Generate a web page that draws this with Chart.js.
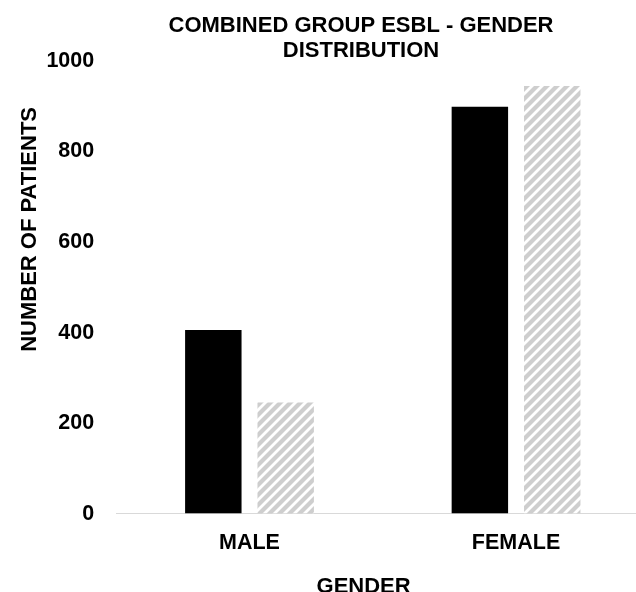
<!DOCTYPE html>
<html>
<head>
<meta charset="utf-8">
<script src="https://cdn.jsdelivr.net/npm/chart.js@4.4.1/dist/chart.umd.min.js"></script>
<style>
  html, body { margin: 0; padding: 0; background: #ffffff; }
  #wrap { width: 636px; height: 592px; }
</style>
</head>
<body>
<div id="wrap"><canvas id="chart" width="636" height="592"></canvas></div>
<script>
// Gender categories and patient counts for the two groups
const categories = ['MALE', 'FEMALE'];
const groupSolid = [406, 899];
const groupHatched = [246, 945];
const yTicks = [0, 200, 400, 600, 800, 1000];
const titleLines = ['COMBINED GROUP ESBL - GENDER', 'DISTRIBUTION'];
const xTitle = 'GENDER';
const yTitle = 'NUMBER OF PATIENTS';

// Diagonal light-gray stripe pattern (rising to the right) for the second group
function makeHatch() {
  const size = 10;
  const c = document.createElement('canvas');
  c.width = size; c.height = size;
  const g = c.getContext('2d');
  const img = g.createImageData(size, size);
  for (let y = 0; y < size; y++) {
    for (let x = 0; x < size; x++) {
      const d = (x + y) % size;
      let v = 255;
      if (d < 5) v = 206;
      else if (d === 5 || d === 9) v = 230;
      const i = (y * size + x) * 4;
      img.data[i] = v; img.data[i + 1] = v; img.data[i + 2] = v; img.data[i + 3] = 255;
    }
  }
  g.putImageData(img, 0, 0);
  return g.createPattern(c, 'repeat');
}

// Offsets for the titles: the chart title and the category-axis title sit
// left of the plot centre, the value-axis title in the upper part of its axis.
const TITLE_OFFSET_X = 57;
const XTITLE_OFFSET_X = -25;
const YTITLE_OFFSET_Y = -116;

const titleShift = {
  id: 'titleShift',
  beforeDraw(chart) {
    const tb = chart.titleBlock;
    const x = chart.scales.x, y = chart.scales.y;
    this._saved = { tb: tb ? tb.left : undefined, x: x.left, y: y.bottom };
    if (tb) tb.left += TITLE_OFFSET_X;
    x.left += XTITLE_OFFSET_X;
    y.bottom += YTITLE_OFFSET_Y;
  },
  afterDraw(chart) {
    const s = this._saved;
    if (!s) return;
    if (chart.titleBlock && s.tb !== undefined) chart.titleBlock.left = s.tb;
    chart.scales.x.left = s.x;
    chart.scales.y.bottom = s.y;
  }
};

const FONT = "'Liberation Sans', Arial, sans-serif";

new Chart(document.getElementById('chart'), {
  type: 'bar',
  data: {
    labels: categories,
    datasets: [
      {
        data: groupSolid,
        backgroundColor: '#000000',
        borderWidth: 0,
        clip: false,
        categoryPercentage: 0.543,
        barPercentage: 0.78
      },
      {
        data: groupHatched,
        backgroundColor: makeHatch(),
        borderWidth: 0,
        clip: false,
        categoryPercentage: 0.543,
        barPercentage: 0.78
      }
    ]
  },
  plugins: [titleShift],
  options: {
    responsive: false,
    animation: false,
    devicePixelRatio: 1,
    layout: { padding: { left: 17, right: -12, top: 0, bottom: 0 } },
    plugins: {
      legend: { display: false },
      tooltip: { enabled: false },
      title: {
        display: true,
        text: titleLines,
        color: '#000000',
        font: { family: FONT, size: 22, weight: 'bold', lineHeight: '25px' },
        padding: { top: 13, bottom: -2 }
      }
    },
    scales: {
      x: {
        // the category bands continue past the right edge of the canvas
        afterBuildTicks: (scale) => { scale._valueRange = 1.95; },
        grid: { display: false, drawTicks: false },
        border: { display: false },
        ticks: {
          color: '#000000',
          padding: 16,
          font: { family: FONT, size: 21.5, weight: 'bold' }
        },
        title: {
          display: true,
          text: xTitle,
          color: '#000000',
          font: { family: FONT, size: 22, weight: 'bold' },
          padding: { top: 2, bottom: -8 }
        }
      },
      y: {
        min: 0,
        max: 1000,
        afterBuildTicks: (scale) => { scale.ticks = yTicks.map(v => ({ value: v })); },
        grid: {
          display: true,
          drawTicks: false,
          lineWidth: 1,
          color: (ctx) => (ctx.tick && ctx.tick.value === 0 ? '#d9d9d9' : 'rgba(0,0,0,0)')
        },
        border: { display: false },
        ticks: {
          color: '#000000',
          padding: 22,
          font: { family: FONT, size: 21.5, weight: 'bold' },
          callback: (v) => String(v)
        },
        title: {
          display: true,
          text: yTitle,
          color: '#000000',
          font: { family: FONT, size: 22, weight: 'bold' },
          padding: { top: 0, bottom: -19 }
        }
      }
    }
  }
});
</script>
</body>
</html>
